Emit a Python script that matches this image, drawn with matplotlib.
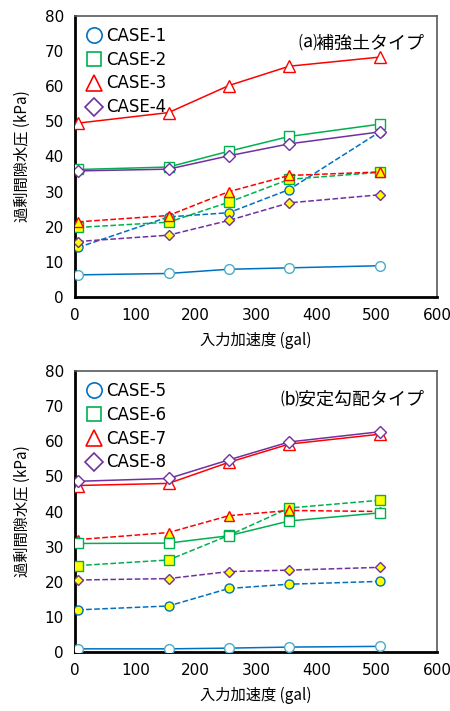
import numpy as np
import matplotlib
matplotlib.use('Agg')
import matplotlib.pyplot as plt
from matplotlib.lines import Line2D

plt.rcParams['font.family'] = ['Noto Sans CJK JP', 'DejaVu Sans']

# 入力加速度 (gal)
acc = [5, 155, 255, 355, 505]

# (a) 補強土タイプ : solid = open marker, dashed = yellow filled marker
case1 = [6.3, 6.7, 7.9, 8.3, 8.9]
case1_d = [14.1, 22.8, 24.0, 30.6, 47.0]
case2 = [36.3, 37.0, 41.5, 45.7, 49.2]
case2_d = [19.8, 21.3, 27.0, 33.5, 35.5]
case3 = [49.5, 52.5, 60.2, 65.7, 68.3]
case3_d = [21.4, 23.2, 30.0, 34.6, 35.6]
case4 = [35.9, 36.4, 40.2, 43.6, 47.0]
case4_d = [15.8, 17.6, 21.8, 26.8, 29.1]

# (b) 安定勾配タイプ
case5 = [0.9, 0.9, 1.1, 1.4, 1.6]
case5_d = [12.0, 13.1, 18.1, 19.3, 20.1]
case6 = [30.9, 31.0, 33.1, 37.3, 39.6]
case6_d = [24.6, 26.2, 33.2, 41.0, 43.2]
case7 = [47.4, 48.0, 54.0, 59.2, 62.0]
case7_d = [32.0, 34.0, 38.8, 40.3, 40.0]
case8 = [48.6, 49.4, 54.7, 59.8, 62.7]
case8_d = [20.5, 20.9, 22.9, 23.3, 24.1]

blue = '#0070C0'
teal = '#4BACC6'
green = '#00B050'
red = '#FF0000'
purple = '#7030A0'
yellow = '#FFFF00'

fig = plt.figure(figsize=(4.5, 7.11), dpi=100)
W, H = 450, 711
ax1 = fig.add_axes([75 / W, 1 - 297 / H, 362 / W, 281 / H])
ax2 = fig.add_axes([75 / W, 1 - 652 / H, 362 / W, 281 / H])


def draw(ax, s1, d1, s2, d2, s3, d3, s4, d4, names, title):
    # dashed series (filled yellow)
    ax.plot(acc, d1, '--', color=blue, lw=1.1, marker='o', ms=6.5, mfc=yellow, mec=blue, mew=1.0, zorder=3)
    ax.plot(acc, d2, '--', color=green, lw=1.1, marker='s', ms=6.5, mfc=yellow, mec=green, mew=1.0, zorder=3)
    ax.plot(acc, d4, '--', color=purple, lw=1.1, marker='D', ms=5.5, mfc=yellow, mec=purple, mew=1.0, zorder=3)
    ax.plot(acc, d3, '--', color=red, lw=1.1, marker='^', ms=7.5, mfc=yellow, mec=red, mew=1.0, zorder=3)
    # solid series (open)
    ax.plot(acc, s1, '-', color=blue, lw=1.1, marker='o', ms=7, mfc='white', mec=teal, mew=1.0, zorder=4)
    ax.plot(acc, s2, '-', color=green, lw=1.1, marker='s', ms=7, mfc='white', mec=green, mew=1.0, zorder=4)
    ax.plot(acc, s3, '-', color=red, lw=1.1, marker='^', ms=8, mfc='white', mec=red, mew=1.0, zorder=4)
    ax.plot(acc, s4, '-', color=purple, lw=1.1, marker='D', ms=6.5, mfc='white', mec=purple, mew=1.0, zorder=4)

    handles = [
        Line2D([], [], ls='none', marker='o', ms=11, mfc='white', mec=blue, mew=1.2),
        Line2D([], [], ls='none', marker='s', ms=10, mfc='white', mec=green, mew=1.2),
        Line2D([], [], ls='none', marker='^', ms=11, mfc='white', mec=red, mew=1.2),
        Line2D([], [], ls='none', marker='D', ms=9, mfc='white', mec=purple, mew=1.2),
    ]
    leg = ax.legend(handles, names, loc='upper left', frameon=False, fontsize=12,
                    handlelength=1.0, handletextpad=0.2, labelspacing=0.35,
                    borderaxespad=0.25, bbox_to_anchor=(0.0, 1.0))
    for t in leg.get_texts():
        t.set_family(['DejaVu Sans'])
    ax.text(0.965, 0.9, title, transform=ax.transAxes, ha='right', va='center', fontsize=13)

    ax.set_xlim(0, 600)
    ax.set_ylim(0, 80)
    ax.set_xticks(np.arange(0, 601, 100))
    ax.set_yticks(np.arange(0, 81, 10))
    ax.tick_params(length=0, labelsize=11, pad=8)
    for lab in ax.get_xticklabels() + ax.get_yticklabels():
        lab.set_family(['DejaVu Sans'])
    for side in ['left', 'bottom']:
        ax.spines[side].set_color('black')
        ax.spines[side].set_linewidth(2.0)
    for side in ['top', 'right']:
        ax.spines[side].set_color('#595959')
        ax.spines[side].set_linewidth(1.2)
    ax.set_xlabel('入力加速度 (gal)', fontsize=11, labelpad=6)
    ax.set_ylabel('過剰間隙水圧 (kPa)', fontsize=11, labelpad=10)


draw(ax1, case1, case1_d, case2, case2_d, case3, case3_d, case4, case4_d,
     ['CASE-1', 'CASE-2', 'CASE-3', 'CASE-4'], '⒜補強土タイプ')
draw(ax2, case5, case5_d, case6, case6_d, case7, case7_d, case8, case8_d,
     ['CASE-5', 'CASE-6', 'CASE-7', 'CASE-8'], '⒝安定勾配タイプ')

fig.savefig('out.png', dpi=100)
